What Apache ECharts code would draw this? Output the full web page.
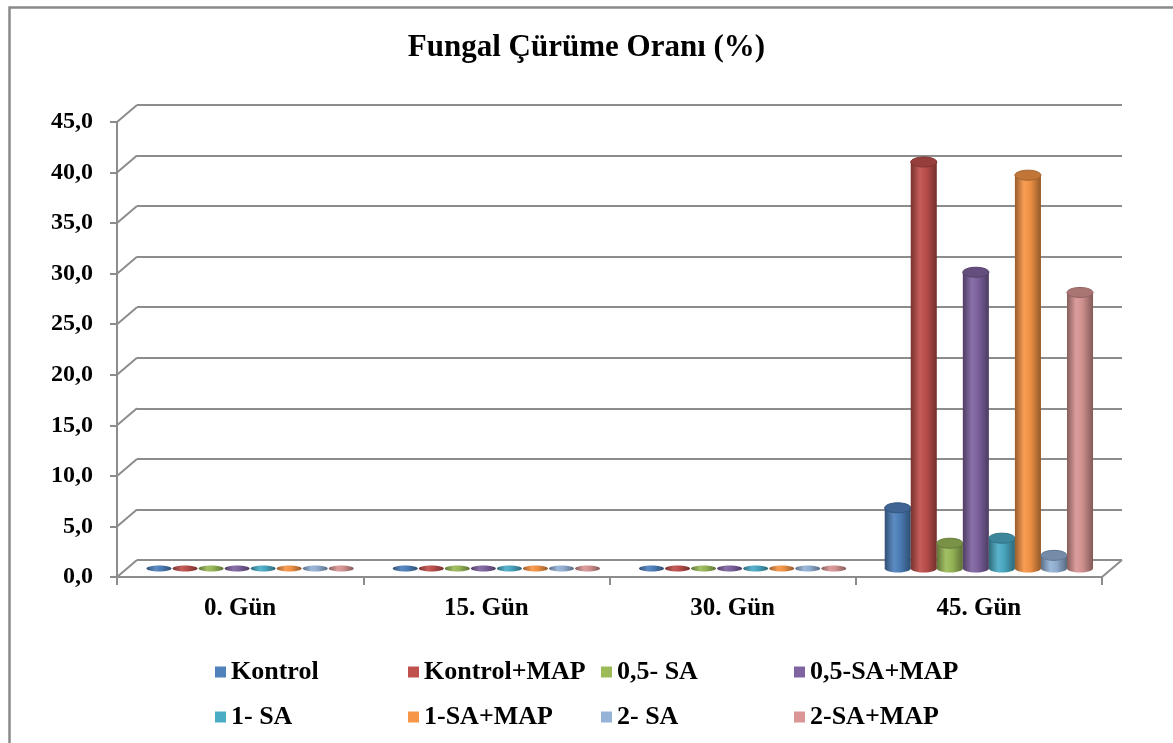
<!DOCTYPE html>
<html>
<head>
<meta charset="utf-8">
<script src="https://cdn.jsdelivr.net/npm/echarts@6/dist/echarts.min.js"></script>
<style>
  html, body { margin: 0; padding: 0; background: #fff; }
  #chart { width: 1173px; height: 743px; }
</style>
</head>
<body>
<div id="chart"></div>
<script>
// data
var categories = ['0. Gün', '15. Gün', '30. Gün', '45. Gün'];
var seriesNames = ['Kontrol', 'Kontrol+MAP', '0,5- SA', '0,5-SA+MAP', '1- SA', '1-SA+MAP', '2- SA', '2-SA+MAP'];
var kontrol      = [0, 0, 0, 6.0];
var kontrolMap   = [0, 0, 0, 40.2];
var sa05         = [0, 0, 0, 2.5];
var sa05Map      = [0, 0, 0, 29.3];
var sa1          = [0, 0, 0, 3.0];
var sa1Map       = [0, 0, 0, 38.9];
var sa2          = [0, 0, 0, 1.3];
var sa2Map       = [0, 0, 0, 27.3];
var yTicks = [0, 5, 10, 15, 20, 25, 30, 35, 40, 45];

var allValues = [kontrol, kontrolMap, sa05, sa05Map, sa1, sa1Map, sa2, sa2Map];
var colors = ['#4F81BD', '#C0504D', '#9BBB59', '#8064A2', '#4BACC6', '#F79646', '#95B3D7', '#D99694'];

var FONT = "'Liberation Serif', 'Times New Roman', serif";
var GRID_COLOR = '#8c8c8c';
var DX = 20, DY = -17;   // depth offset of the back wall

function shade(hex, f) {
    var n = parseInt(hex.slice(1), 16);
    var r = (n >> 16) & 255, g = (n >> 8) & 255, b = n & 255;
    function m(c) {
        if (f < 1) return Math.round(c * f);
        return Math.round(c + (255 - c) * (f - 1));
    }
    return 'rgb(' + m(r) + ',' + m(g) + ',' + m(b) + ')';
}

function renderBar(params, api) {
    var k = params.seriesIndex;
    var cat = api.value(0), val = api.value(1);
    var top = api.coord([cat, val]);
    var base = api.coord([cat, 0]);
    var catW = api.size([1, 0])[0];
    var w = catW * 0.846 / 8;
    var cx = top[0] + (k - 3.5) * w;
    var col = colors[k];
    var grad = new echarts.graphic.LinearGradient(0, 0, 1, 0, [
        { offset: 0, color: shade(col, 0.62) },
        { offset: 0.35, color: shade(col, 1.08) },
        { offset: 0.6, color: shade(col, 0.95) },
        { offset: 1, color: shade(col, 0.6) }
    ]);
    var children = [];
    if (val > 0) {
        children.push({ type: 'ellipse', shape: { cx: cx, cy: base[1], rx: w / 2, ry: 4 }, style: { fill: grad } });
        children.push({ type: 'rect', shape: { x: cx - w / 2, y: top[1], width: w, height: base[1] - top[1] }, style: { fill: grad } });
        children.push({ type: 'ellipse', shape: { cx: cx, cy: top[1], rx: w / 2, ry: 5 },
            style: { fill: shade(col, 0.78), stroke: shade(col, 0.66), lineWidth: 1 } });
    } else {
        children.push({ type: 'ellipse', shape: { cx: cx, cy: base[1], rx: w / 2 - 0.5, ry: 3 }, style: { fill: grad } });
    }
    return { type: 'group', children: children };
}

// side wall diagonals + right floor edge
function renderFrame(params, api) {
    var v = api.value(1);
    var p = api.coord([0, v]);
    var catW = api.size([1, 0])[0];
    var left = p[0] - catW / 2;
    var st = { stroke: GRID_COLOR, lineWidth: 2 };
    var children = [{ type: 'line', shape: { x1: left, y1: p[1], x2: left + DX, y2: p[1] + DY }, style: st }];
    if (v === 0) {
        var right = left + catW * categories.length;
        children.push({ type: 'line', shape: { x1: right, y1: p[1], x2: right + DX, y2: p[1] + DY }, style: st });
    }
    return { type: 'group', children: children };
}

var chart = echarts.init(document.getElementById('chart'));

var series = seriesNames.map(function (name, k) {
    return {
        name: name,
        type: 'custom',
        xAxisIndex: 2,
        yAxisIndex: 2,
        itemStyle: { color: colors[k] },
        renderItem: renderBar,
        z: 5,
        data: allValues[k].map(function (v, i) { return [i, v]; })
    };
});
series.push({
    type: 'custom',
    xAxisIndex: 0,
    yAxisIndex: 0,
    silent: true,
    renderItem: renderFrame,
    z: 1,
    data: yTicks.map(function (v) { return [0, v]; })
});

// legend: 4 columns x 2 rows
var legendLeft = [210, 403, 596, 789];
var legends = legendLeft.map(function (x, c) {
    return {
        data: [seriesNames[c], seriesNames[c + 4]],
        orient: 'vertical',
        left: x, top: 654,
        icon: 'rect', itemWidth: 11, itemHeight: 11, itemGap: 19,
        selectedMode: false,
        textStyle: { fontFamily: FONT, fontWeight: 'bold', fontSize: 26, color: '#000' }
    };
});

var option = {
    animation: false,
    backgroundColor: '#fff',
    title: {
        text: 'Fungal Çürüme Oranı (%)',
        left: 'center',
        top: 27,
        textStyle: { fontFamily: FONT, fontWeight: 'bold', fontSize: 31, color: '#000' }
    },
    legend: legends,
    grid: [
        { left: 117, top: 122, width: 985, height: 455 },          // front
        { left: 137, top: 105, width: 985, height: 455 },          // back wall
        { left: 127, top: 113.5, width: 985, height: 455 }         // mid depth (bars)
    ],
    xAxis: [
        {
            type: 'category', gridIndex: 0, data: categories,
            axisLine: { lineStyle: { color: GRID_COLOR, width: 2 } },
            axisTick: { show: true, length: 8, lineStyle: { color: GRID_COLOR, width: 2 } },
            axisLabel: { margin: 19, fontFamily: FONT, fontWeight: 'bold', fontSize: 25, color: '#000' }
        },
        { type: 'category', gridIndex: 1, data: categories, show: false },
        { type: 'category', gridIndex: 2, data: categories, show: false }
    ],
    yAxis: [
        {
            type: 'value', gridIndex: 0, min: 0, max: 45, interval: 5,
            axisLine: { show: true, lineStyle: { color: GRID_COLOR, width: 2 } },
            axisTick: { show: true, length: 7, lineStyle: { color: GRID_COLOR, width: 2 } },
            splitLine: { show: false },
            axisLabel: {
                margin: 24, fontFamily: FONT, fontWeight: 'bold', fontSize: 24, color: '#000',
                formatter: function (v) { return v.toFixed(1).replace('.', ','); }
            }
        },
        {
            type: 'value', gridIndex: 1, min: 0, max: 45, interval: 5,
            axisLine: { show: false }, axisTick: { show: false }, axisLabel: { show: false },
            splitLine: { show: true, lineStyle: { color: GRID_COLOR, width: 2 } }
        },
        { type: 'value', gridIndex: 2, min: 0, max: 45, interval: 5, show: false }
    ],
    graphic: [
        {
            type: 'rect',
            shape: { x: 9.5, y: 7.5, width: 1300, height: 900 },
            style: { fill: 'none', stroke: '#8a8a8a', lineWidth: 2.5 },
            silent: true
        }
    ],
    series: series
};

chart.setOption(option);
</script>
</body>
</html>
